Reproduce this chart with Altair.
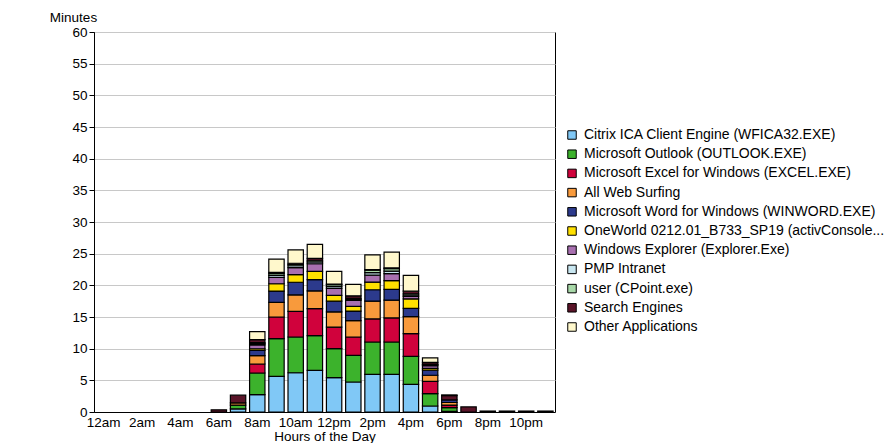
import altair as alt
import pandas as pd

hour_labels = ["12am", "1am", "2am", "3am", "4am", "5am", "6am", "7am", "8am", "9am", "10am", "11am",
               "12pm", "1pm", "2pm", "3pm", "4pm", "5pm", "6pm", "7pm", "8pm", "9pm", "10pm", "11pm"]
tick_labels = hour_labels[::2]

series_names = [
    "Citrix ICA Client Engine (WFICA32.EXE)",
    "Microsoft Outlook (OUTLOOK.EXE)",
    "Microsoft Excel for Windows (EXCEL.EXE)",
    "All Web Surfing",
    "Microsoft Word for Windows (WINWORD.EXE)",
    "OneWorld 0212.01_B733_SP19 (activConsole...",
    "Windows Explorer (Explorer.Exe)",
    "PMP Intranet",
    "user (CPoint.exe)",
    "Search Engines",
    "Other Applications",
]
series_colors = ["#80c8f6", "#3cb22c", "#d0023c", "#f89a3c", "#2c3a8c", "#ffe000",
                 "#a870b0", "#c8e6f0", "#a8d8a8", "#5a1428", "#fff8cc"]

# minutes per hour, 12am .. 11pm
citrix   = [0]*6 + [0, 0.5, 2.74, 5.63, 6.2, 6.58, 5.42, 4.74, 5.95, 5.95, 4.37, 0.95, 0.1, 0, 0, 0, 0, 0]
outlook  = [0]*6 + [0, 0.6, 3.42, 5.95, 5.64, 5.47, 4.58, 4.2, 5.1, 5.1, 4.42, 1.95, 0.6, 0, 0, 0, 0, 0]
excel    = [0]*6 + [0, 0, 1.42, 3.42, 4.05, 4.26, 3.4, 2.9, 3.65, 3.8, 3.58, 1.95, 0.4, 0, 0, 0, 0, 0]
web      = [0]*6 + [0, 0.35, 1.31, 2.3, 2.6, 2.8, 2.4, 2.6, 2.8, 2.8, 2.7, 0.95, 0.4, 0, 0, 0, 0, 0]
word     = [0]*6 + [0, 0, 0.84, 1.8, 2.0, 1.8, 1.7, 1.5, 1.8, 1.7, 1.3, 0.8, 0.4, 0, 0, 0, 0, 0]
oneworld = [0]*6 + [0, 0, 0.26, 1.15, 1.2, 1.3, 0.9, 0.75, 1.2, 1.4, 1.5, 0.3, 0, 0, 0, 0, 0, 0]
explorer = [0]*6 + [0, 0, 0.6, 1.0, 1.1, 1.2, 1.1, 0.95, 1.1, 1.1, 0.4, 0.4, 0, 0, 0, 0, 0, 0]
pmp      = [0]*6 + [0, 0, 0.2, 0.3, 0.3, 0.3, 0.3, 0.15, 0.4, 0.4, 0.2, 0.15, 0, 0, 0, 0, 0, 0]
user     = [0]*6 + [0, 0, 0.15, 0.3, 0.2, 0.25, 0.3, 0.15, 0.4, 0.4, 0.2, 0.1, 0, 0, 0, 0, 0, 0]
search   = [0]*6 + [0.35, 1.2, 0.5, 0.2, 0.2, 0.3, 0.1, 0.4, 0.1, 0.1, 0.4, 0.3, 0.7, 0.8, 0.15, 0.15, 0.15, 0.15]
other    = [0]*6 + [0, 0, 1.26, 2.1, 2.1, 2.2, 2.0, 1.8, 2.3, 2.5, 2.5, 0.7, 0.1, 0, 0, 0, 0, 0]

series_values = [citrix, outlook, excel, web, word, oneworld, explorer, pmp, user, search, other]

rows = []
for si, (name, vals) in enumerate(zip(series_names, series_values)):
    for hi, v in enumerate(vals):
        if v > 0:
            rows.append({"hour": hour_labels[hi], "app": name, "order": si, "minutes": v})
df = pd.DataFrame(rows)

FONT = "Liberation Sans"

chart = alt.Chart(df).mark_bar(stroke="black", strokeWidth=1.2).encode(
    x=alt.X("hour:N", sort=hour_labels,
            scale=alt.Scale(domain=hour_labels, paddingInner=0.2, paddingOuter=0.1),
            axis=alt.Axis(values=tick_labels, labelAngle=0, ticks=False, title="Hours of the Day",
                          labelPadding=3, titlePadding=1, domainColor="black", grid=False)),
    y=alt.Y("minutes:Q", stack="zero",
            scale=alt.Scale(domain=[0, 60], nice=False),
            axis=alt.Axis(values=list(range(0, 61, 5)), title="Minutes", titleAngle=0,
                          titleX=-21, titleY=-11, titleAlign="center", titleBaseline="alphabetic",
                          tickSize=5, tickColor="black", domainColor="black",
                          grid=True, gridColor="#c8c8c8", labelPadding=2)),
    color=alt.Color("app:N", scale=alt.Scale(domain=series_names, range=series_colors),
                    legend=alt.Legend(title=None, orient="none", legendX=471, legendY=96,
                                      symbolType="square", symbolSize=72, symbolStrokeColor="black",
                                      symbolStrokeWidth=1, symbolOpacity=1, labelOffset=5,
                                      rowPadding=5.2, labelLimit=400)),
    order=alt.Order("order:Q", sort="ascending"),
).properties(
    width=461, height=380,
    autosize=alt.AutoSizeParams(type="none"),
    padding={"left": 86, "top": 24, "right": 330, "bottom": 31},
).configure_view(
    stroke="black", strokeWidth=1
).configure_axis(
    labelFont=FONT, titleFont=FONT, labelFontSize=13.5, titleFontSize=13.5,
    labelColor="black", titleColor="black", titleFontWeight="normal"
).configure_legend(
    labelFont=FONT, labelFontSize=14, labelColor="black"
)

chart.save("out.html", embed_options={"renderer": "svg", "actions": False})
